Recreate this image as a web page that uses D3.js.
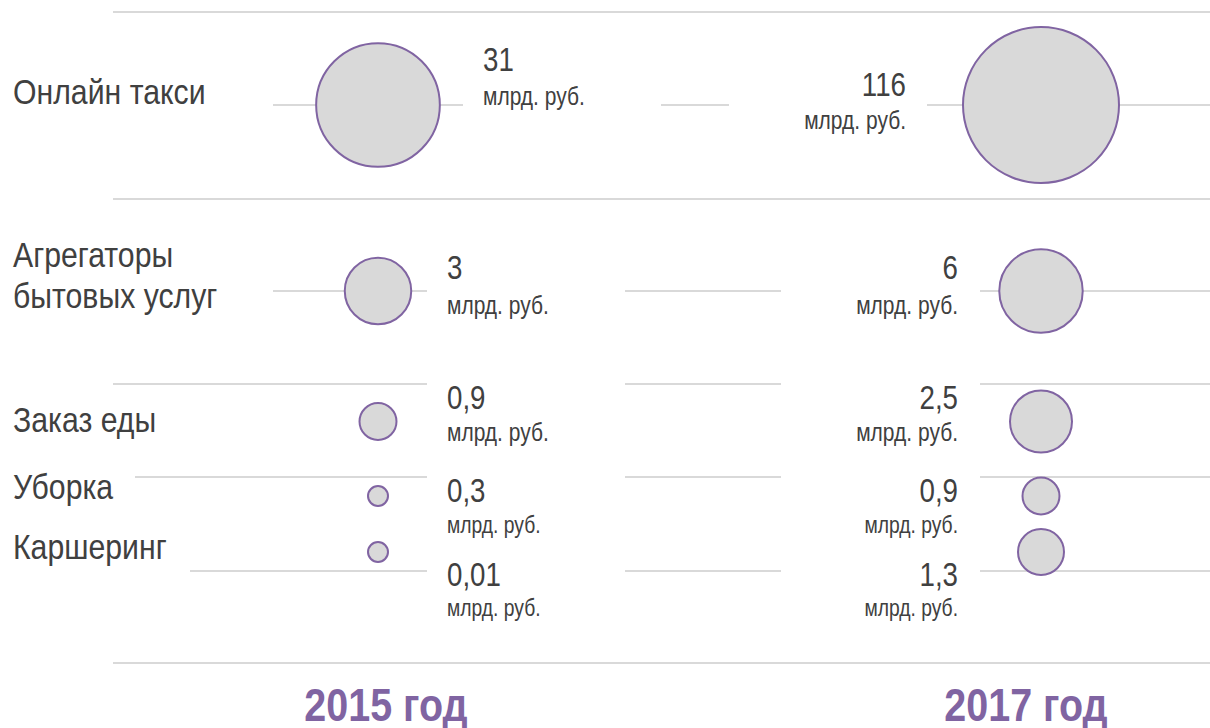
<!DOCTYPE html>
<html>
<head>
<meta charset="utf-8">
<script src="https://cdn.jsdelivr.net/npm/d3@7"></script>
<style>
  body { margin: 0; background: #fff; }
  svg text { font-family: "Liberation Sans", Arial, sans-serif; fill: #404040; }
</style>
</head>
<body>
<div id="chart"></div>
<script>
// --- Data ---
const categories = ["Онлайн такси", "Агрегаторы бытовых услуг", "Заказ еды", "Уборка", "Каршеринг"];
const years = ["2015", "2017"];
const values2015 = [31, 3, 0.9, 0.3, 0.01];
const values2017 = [116, 6, 2.5, 0.9, 1.3];
const labels2015 = ["31", "3", "0,9", "0,3", "0,01"];
const labels2017 = ["116", "6", "2,5", "0,9", "1,3"];
const unit = "млрд. руб.";

const width = 1210, height = 728;
const purple = "#8064A2", grid = "#D9D9D9";
const narrow = 0.84; // squeeze Liberation Sans to look like Arial Narrow

const svg = d3.select("#chart").append("svg")
  .attr("width", width)
  .attr("height", height);

// --- Scales ---
const xScale = d3.scalePoint().domain(years).range([378, 1041]);
const yScale = d3.scaleOrdinal().domain(categories).range([105, 291, 421.5, 496, 552]);
const rScale = d3.scaleLog().domain([0.45, 116]).range([10, 78]).clamp(true);

const rows = categories.map((c, i) => ({
  cat: c,
  v15: values2015[i], v17: values2017[i],
  l15: labels2015[i], l17: labels2017[i],
  big: i < 3
}));

// helper: narrow text placed at x,y
const addText = (g, x, y, txt, size, anchor = "start") =>
  g.append("text")
    .attr("transform", `translate(${x},${y}) scale(${narrow},1)`)
    .attr("text-anchor", anchor)
    .style("font-size", size + "px")
    .text(txt);

// --- Grid lines (row separators and connectors) ---
const lines = [
  [113, 1210, 12], [113, 1210, 199], [113, 1210, 663],
  [273, 463, 105], [661, 729, 105], [927, 1210, 105],
  [273, 427, 291], [625, 781, 291], [980, 1210, 291],
  [113, 427, 384], [625, 781, 384], [980, 1210, 384],
  [135, 427, 477], [625, 781, 477], [980, 1210, 477],
  [190, 427, 571], [625, 781, 571], [980, 1210, 571]
];
svg.append("g").selectAll("line")
  .data(lines)
  .join("line")
  .attr("x1", d => d[0]).attr("x2", d => d[1])
  .attr("y1", d => d[2]).attr("y2", d => d[2])
  .attr("stroke", grid)
  .attr("stroke-width", 2);

// --- Category labels ---
const catG = svg.append("g");
const catLines = {
  "Онлайн такси": [[-1, "Онлайн такси"]],
  "Агрегаторы бытовых услуг": [[-24, "Агрегаторы"], [17, "бытовых услуг"]],
  "Заказ еды": [[10, "Заказ еды"]],
  "Уборка": [[3, "Уборка"]],
  "Каршеринг": [[7, "Каршеринг"]]
};
rows.forEach(d => {
  catLines[d.cat].forEach(([dy, t]) => addText(catG, 13, yScale(d.cat) + dy, t, 36));
});

// --- Bubbles ---
const bubbles = svg.append("g");
years.forEach(y => {
  bubbles.selectAll(".b" + y)
    .data(rows)
    .join("circle")
    .attr("class", "b" + y)
    .attr("cx", xScale(y))
    .attr("cy", d => yScale(d.cat))
    .attr("r", d => rScale(y === "2015" ? d.v15 : d.v17))
    .attr("fill", "#D9D9D9")
    .attr("stroke", purple)
    .attr("stroke-width", 2);
});

// --- Value labels ---
// baselines of value / unit relative to row centre
const valOffset = { "Онлайн такси": [-34, 0], "Агрегаторы бытовых услуг": [-12, 23],
  "Заказ еды": [-13, 19.5], "Уборка": [6, 37], "Каршеринг": [34, 64] };
const offset17 = { "Онлайн такси": [-9, 24] };

years.forEach(y => {
  const is15 = y === "2015";
  const g = svg.append("g");
  rows.forEach(d => {
    let off = valOffset[d.cat];
    if (!is15 && offset17[d.cat]) off = offset17[d.cat];
    const first = d.cat === "Онлайн такси";
    const x = is15 ? (first ? 483 : 447) : (first ? 906 : 958);
    const anchor = is15 ? "start" : "end";
    addText(g, x, yScale(d.cat) + off[0], is15 ? d.l15 : d.l17, 33, anchor);
    addText(g, x, yScale(d.cat) + off[1], unit, d.big ? 25 : 23, anchor);
  });
});

// --- Year labels ---
const yearX = d3.scalePoint().domain(years).range([386, 1026]);
svg.append("g").selectAll("text")
  .data(years)
  .join("text")
  .attr("transform", d => `translate(${yearX(d)},721) scale(${narrow},1)`)
  .attr("text-anchor", "middle")
  .style("font-size", "47px")
  .style("font-weight", "bold")
  .style("fill", purple)
  .text(d => d + " год");
</script>
</body>
</html>
